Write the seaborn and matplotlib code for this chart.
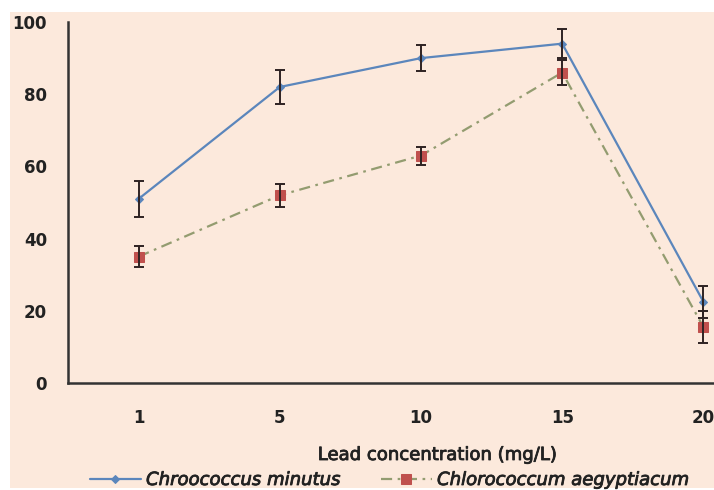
import matplotlib
matplotlib.use("Agg")
import matplotlib.pyplot as plt
import matplotlib.patheffects as pe
import seaborn as sns
import pandas as pd
from matplotlib.patches import Rectangle

categories = ["1", "5", "10", "15", "20"]
chroococcus = [51, 82, 90, 94, 22.5]
chroococcus_err = [5, 4.7, 3.5, 4, 4.5]
chlorococcum = [35, 52, 63, 86, 15.5]
chlorococcum_err = [3, 3.2, 2.5, 3.5, 4.5]
y_ticks = [0, 20, 40, 60, 80, 100]
series_names = ["Chroococcus minutus", "Chlorococcum aegyptiacum"]

sns.set_theme(style="white")
plt.rcParams['font.family'] = ['DejaVu Sans']

BG = "#FCE9DC"
TXT = "#222222"
fig = plt.figure(figsize=(7.14, 4.90), dpi=100, facecolor="white")
fig.patches.append(Rectangle((10/714, 2/490), 1, (490-12-2)/490, transform=fig.transFigure,
                             facecolor=BG, edgecolor="none", zorder=-10))

ax = fig.add_axes([68/714, (490-383)/490, 706/714, (383-22)/490])
ax.patch.set_alpha(0)

idx = list(range(len(categories)))
df = pd.DataFrame({
    "pos": idx * 2,
    "value": chroococcus + chlorococcum,
    "series": [series_names[0]] * 5 + [series_names[1]] * 5,
})

sns.lineplot(data=df[df.series == series_names[0]], x="pos", y="value", ax=ax,
             color="#5B86BC", lw=1.6, marker="D", markersize=4.5,
             markeredgecolor="#5B86BC", label=series_names[0], zorder=3)
sns.lineplot(data=df[df.series == series_names[1]], x="pos", y="value", ax=ax,
             color="#939C70", lw=1.6, linestyle=(0, (5, 2.5, 1.2, 2.5)), marker="s",
             markersize=7, markerfacecolor="#C0504D", markeredgecolor="#C0504D",
             label=series_names[1], zorder=2)

ax.errorbar(idx, chroococcus, yerr=chroococcus_err, fmt="none", ecolor="#2E2222",
            elinewidth=1.4, capsize=3.5, capthick=1.4, zorder=4)
ax.errorbar(idx, chlorococcum, yerr=chlorococcum_err, fmt="none", ecolor="#2E2222",
            elinewidth=1.4, capsize=3.5, capthick=1.4, zorder=4)

ax.set_xlim(-0.5, 4.5)
ax.set_ylim(0, 100)
ax.set_yticks(y_ticks)
ax.set_xticks(idx)
ax.set_xticklabels(categories)
ax.tick_params(axis="both", length=0, labelsize=12, colors=TXT)
ax.tick_params(axis="y", pad=15)
ax.tick_params(axis="x", pad=19)
for lab in ax.get_xticklabels() + ax.get_yticklabels():
    lab.set_fontweight("bold")

for s in ["top", "right"]:
    ax.spines[s].set_visible(False)
for s in ["left", "bottom"]:
    ax.spines[s].set_color("#333333")
    ax.spines[s].set_linewidth(1.8)

ax.set_xlabel("")
ax.set_ylabel("")
fig.text(437/714, (490-455)/490, "Lead concentration (mg/L)", ha="center", va="center",
         fontsize=13, color=TXT,
         path_effects=[pe.withStroke(linewidth=0.6, foreground=TXT)])

ax.get_legend().remove()
handles, labels = ax.get_legend_handles_labels()
leg = fig.legend(handles, labels, loc="center", bbox_to_anchor=(389/714, (490-480)/490),
                 ncol=2, frameon=False, handlelength=2.8, handletextpad=0.3,
                 columnspacing=2.3, prop={"style": "italic", "size": 13})
for t in leg.get_texts():
    t.set_color(TXT)
    t.set_path_effects([pe.withStroke(linewidth=0.6, foreground=TXT)])

fig.savefig("out.png", dpi=100, facecolor=fig.get_facecolor())
